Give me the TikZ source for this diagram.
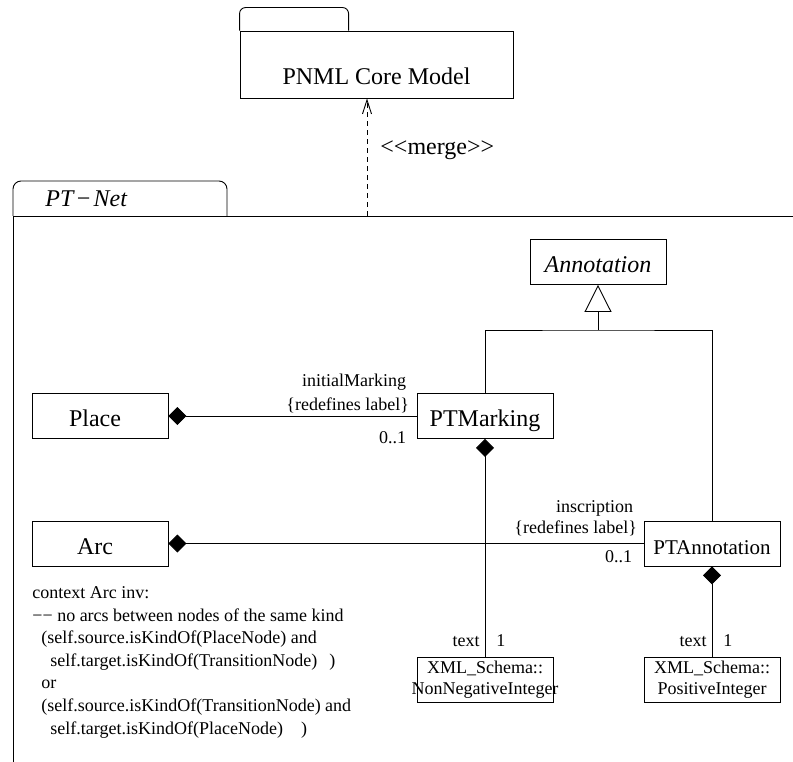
\documentclass[tikz,border=0pt]{standalone}
\usepackage{fontspec}
\setmainfont{Liberation Serif}
\usetikzlibrary{arrows.meta}
\begin{document}
\begin{tikzpicture}[x=1pt,y=-1pt,line width=0.9pt,
  big/.style={font=\fontsize{24}{28}\selectfont},
  small/.style={font=\fontsize{18}{21}\selectfont},
  cls/.style={draw,big,minimum width=136pt,minimum height=45pt,inner sep=0pt,text height=21pt,text depth=0pt},
  dtype/.style={draw,small,minimum width=136pt,minimum height=45pt,inner sep=0pt,align=center},
  compo/.style={{Diamond[length=18pt,width=18pt]}-},
  lbl/.style={small,inner sep=0pt},
  ocl/.style={small,inner sep=0pt,anchor=base west}]
\useasboundingbox (0,0) rectangle (793,762);

% PNML Core Model package
\node[draw,minimum width=273pt,minimum height=67pt,inner sep=0pt] (core) at (376.5,64.5) {};
\draw[rounded corners=6pt] (core.north west) -- ++(0,-23) -- ++(109,0) -- ++(0,23);
\node[big,anchor=base,inner sep=0pt] (corename) at (376.5,85) {PNML Core Model};

% PT-Net package frame
\coordinate (frameTL) at (13,216);
\draw[rounded corners=8pt] (frameTL) -- ++(0,-35) -- ++(214,0) -- ++(0,35);
\draw (13,762) -- (frameTL) -- (793,216);
\node[big,anchor=base west,inner sep=0pt] (ptnetname) at (45,207) {\itshape PT\kern2pt−\kern2pt Net};

% merge dependency
\coordinate (mergefoot) at (367,216);
\draw[dash pattern=on 5pt off 4pt,-{Straight Barb[length=14pt,width=9pt]}] (mergefoot) -- (mergefoot |- core.south);
\node[big,anchor=base west,inner sep=0pt] (mergelbl) at (380,155) {<\kern0pt<merge>\kern0pt>};

% classes
\node[cls] (annot) at (598,262) {\itshape Annotation};
\node[cls] (place) at (100,416) {\hspace*{-10pt}Place};
\node[cls] (ptm) at (485,416) {PTMarking};
\node[cls] (arc) at (100,543.5) {\hspace*{-10pt}Arc};
\node[cls,font=\fontsize{21}{25}\selectfont] (pta) at (712,543.5) {PTAnnotation};
\node[dtype] (nonneg) at (485,679.5) {\makebox[0pt][c]{XML\_Schema::}\\\makebox[0pt][c]{NonNegativeInteger}};
\node[dtype] (posint) at (712,679.5) {\makebox[0pt][c]{XML\_Schema::}\\\makebox[0pt][c]{PositiveInteger}};

% generalization
\coordinate (gen) at (598,330);
\draw (ptm.north) |- (gen) -| (pta.north);
\draw[-{Triangle[open,length=27pt,width=27pt]}] (gen) -- (annot.south);

% compositions
\draw[compo] (place.east) -- (ptm.west);
\draw[compo] (arc.east) -- (pta.west);
\draw[compo] (ptm.south) -- (nonneg.north);
\draw[compo] (pta.south) -- (posint.north);

% association end labels
\node[lbl,anchor=base east] (im1) at ([xshift=-10pt,yshift=30pt]ptm.west) {initialMarking};
\node[lbl,anchor=base east] (im2) at ([xshift=-7pt,yshift=6pt]ptm.west) {\{redefines label\}};
\node[lbl,anchor=base east] (im3) at ([xshift=-10pt,yshift=-27pt]ptm.west) {0..1};
\node[lbl,anchor=base east] (in1) at ([xshift=-10pt,yshift=31.5pt]pta.west) {inscription};
\node[lbl,anchor=base east] (in2) at ([xshift=-6pt,yshift=10.5pt]pta.west) {\{redefines label\}};
\node[lbl,anchor=base east] (in3) at ([xshift=-11pt,yshift=-18.5pt]pta.west) {0..1};
\node[lbl,anchor=base east] (t1) at ([xshift=-5pt,yshift=10pt]nonneg.north) {text};
\node[lbl,anchor=base west] (m1) at ([xshift=11pt,yshift=10pt]nonneg.north) {1};
\node[lbl,anchor=base east] (t2) at ([xshift=-5pt,yshift=10pt]posint.north) {text};
\node[lbl,anchor=base west] (m2) at ([xshift=11pt,yshift=10pt]posint.north) {1};

% OCL constraint
\node[ocl] (ocl1) at (32,598) {context Arc inv:};
\node[ocl] (ocl2) at (32,621) {−− no arcs between nodes of the same kind};
\node[ocl] (ocl3) at (41,643) {(self.source.isKindOf(PlaceNode) and};
\node[ocl] (ocl4) at (50,666) {self.target.isKindOf(TransitionNode)\hspace{12pt})};
\node[ocl] (ocl5) at (41,688) {or};
\node[ocl] (ocl6) at (41,711) {(self.source.isKindOf(TransitionNode) and};
\node[ocl] (ocl7) at (50,734) {self.target.isKindOf(PlaceNode)\hspace{18pt})};
\end{tikzpicture}
\end{document}
